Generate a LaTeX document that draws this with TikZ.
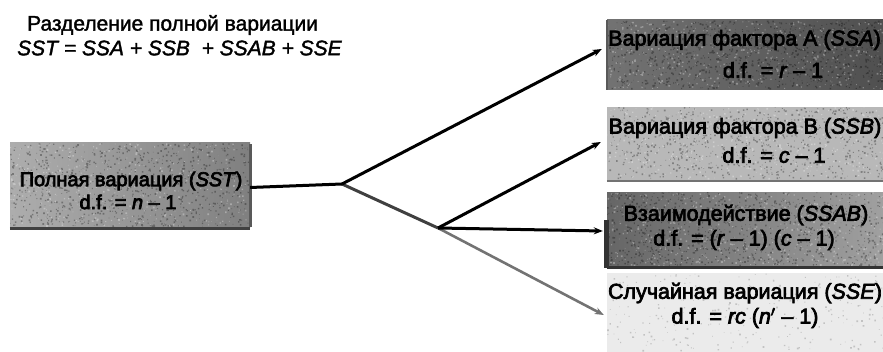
\documentclass[tikz,border=0pt]{standalone}
\usepackage{fontspec}
\setmainfont{Liberation Sans}
\usetikzlibrary{arrows.meta}
% heavier strokes for text: fill and outline the glyphs
\newcommand\heavyink[1]{\special{pdf:literal direct 2 Tr #1 w}}
% sprinkle grain over a rectangle: x0, y0, x1, y1, number of specks, speck colour
\newcommand\grain[6]{%
  \fill[#6, opacity=0.3] \foreach \k in {1,...,#5}{%
    \pgfextra{%
      \pgfmathsetmacro\gx{#1+rnd*(#3-#1)}%
      \pgfmathsetmacro\gy{#2+rnd*(#4-#2)}%
      \pgfmathsetmacro\gr{0.6+rnd*1.2}}%
    (\gx,\gy) rectangle ++(\gr,\gr)
  };}
\begin{document}
\begin{tikzpicture}[x=1pt,y=-1pt,
  txt/.style={font=\fontsize{21.5}{25}\selectfont\heavyink{0.7}, inner sep=0pt},
  srctxt/.style={font=\fontsize{20}{24}\selectfont\heavyink{0.7}, inner sep=0pt},
  ttl/.style={font=\fontsize{21}{24}\selectfont\heavyink{0.35}, inner sep=0pt},
  panel/.style={draw=none, inner sep=0pt, minimum width=#1},
  link/.style={line width=3pt, black},
  arr/.style={link, -{Stealth[length=9pt,width=7pt]}},
  grey link/.style={line width=2.6pt, black!55},
]
\useasboundingbox (0,0) rectangle (883,352);
\clip (0,0) rectangle (883,352);
\pgfmathsetseed{7}

% title
\node[ttl, anchor=west] (title1) at (27,25) {Разделение полной вариации};
\node[ttl, anchor=west] (title2) at (17,48) {\itshape SST = SSA + SSB \ + SSAB + SSE};

% panels
\node[panel=240pt, minimum height=85pt, left color=black!32, middle color=black!20, right color=black!50] (src) at (130,185.5) {};
\node[panel=340pt, minimum height=70pt, left color=black!55, middle color=black!32, right color=black!72] (pa) at (777,55) {};
\node[panel=340pt, minimum height=73pt, left color=black!28, middle color=black!14, right color=black!28] (pb) at (777,144) {};
\node[panel=340pt, minimum height=75pt, left color=black!60, middle color=black!42, right color=black!32] (pab) at (777,230) {};
\node[panel=340pt, minimum height=80pt, fill=black!8] (pe) at (777,313) {};

% grain
\grain{10}{143}{248}{226}{900}{black}
\grain{10}{143}{248}{226}{400}{white}
\grain{607}{20}{883}{88}{1000}{black}
\grain{607}{20}{883}{88}{500}{white}
\grain{607}{107}{883}{178}{800}{black}
\grain{607}{107}{883}{178}{400}{white}
\grain{607}{192}{883}{265}{1000}{black}
\grain{607}{192}{883}{265}{500}{white}
\grain{607}{273}{883}{350}{300}{black!60}

% darker edges
\draw[black!75, line width=3pt] (src.south west) -- (src.south east);
\draw[black!65, line width=3pt] ([yshift=-1.5pt]src.north east) -- ([yshift=1.5pt]src.south east);
\draw[black!55, line width=2pt] (pb.south west) -- (pb.south east);
\draw[black!80, line width=3pt] (pab.south west) -- (pab.south east);
\draw[black!80, line width=5pt] ([yshift=-28pt]pab.north west) -- (pab.south west);
\draw[black!65, line width=2pt] (pa.north west) -- (pa.south west);

% panel texts
\node[srctxt] (s1) at (131,181) {Полная вариация (\textit{SST})};
\node[srctxt] (s2) at (128,202) {d.f. = \textit{n} – 1};
\node[txt, anchor=east] (a1) at (881,40) {Вариация фактора А (\textit{SSA})};
\node[txt] (a2) at (773,70) {d.f. = \textit{r} – 1};
\node[txt] (b1) at (745,128) {Вариация фактора В (\textit{SSB})};
\node[txt] (b2) at (774,155) {d.f. = \textit{c} – 1};
\node[txt] (ab1) at (746,215) {Взаимодействие (\textit{SSAB})};
\node[txt] (ab2) at (744,240) {d.f. = (\textit{r} – 1) (\textit{c} – 1)};
\node[txt] (e1) at (745,293) {Случайная вариация (\textit{SSE})};
\node[txt] (e2) at (745,318) {d.f. = \textit{rc} (\textit{n}$'$ – 1)};

% branching connectors
\coordinate (fork1) at (342,184);
\coordinate (fork2) at (438,228);
\draw[grey link, -{Stealth[length=9pt,width=7pt]}] (fork2) -- ([xshift=-3pt,yshift=-2pt]pe.west);
\draw[link, black!75] (fork1) -- (fork2);
\draw[link] ([yshift=-2pt]src.east) -- (fork1);
\draw[arr] (fork1) -- ([xshift=-5pt,yshift=6pt]pa.west);
\draw[arr] (fork2) -- ([xshift=-6pt,yshift=2pt]pb.west);
\draw[arr] (fork2) -- ([xshift=-4pt,yshift=-1pt]pab.west);
\end{tikzpicture}
\end{document}
